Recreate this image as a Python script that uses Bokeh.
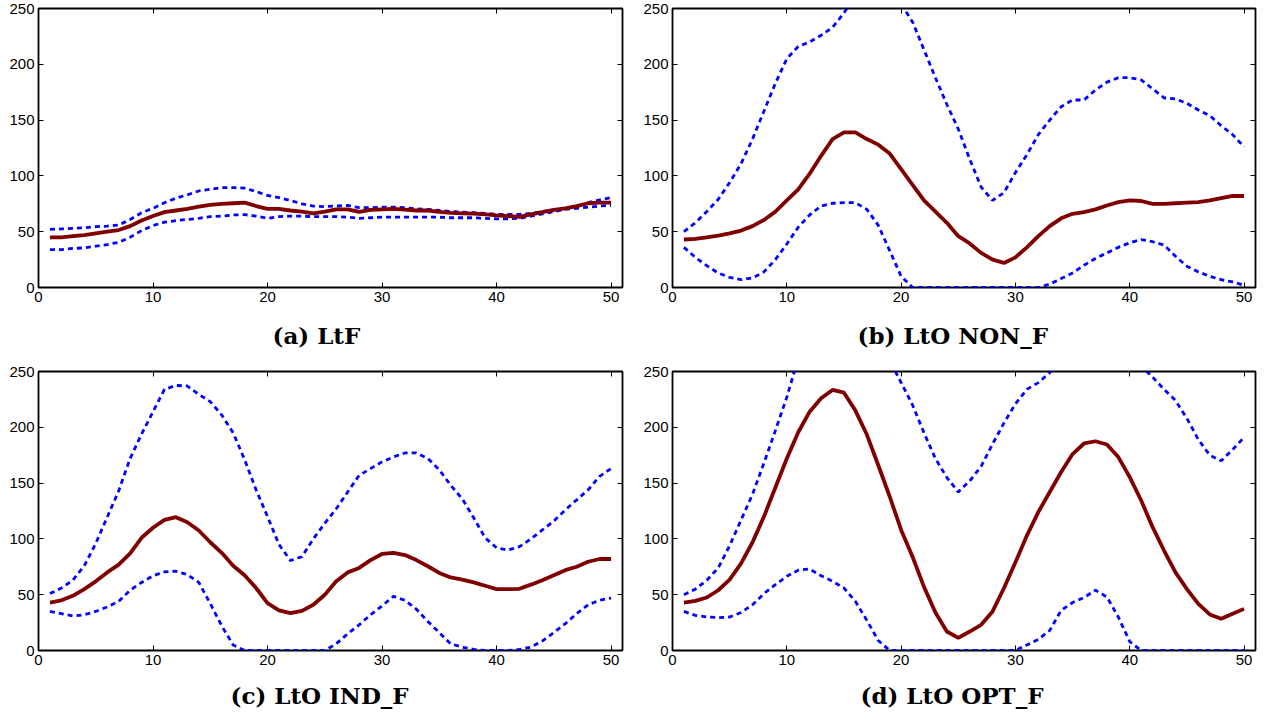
from bokeh.plotting import figure
from bokeh.layouts import gridplot
from bokeh.models import Range1d, SingleIntervalTicker, LinearAxis, Title
from bokeh.embed import file_html
from bokeh.resources import INLINE

x = list(range(1, 51))
captions = ["(a) LtF", "(b) LtO NON_F", "(c) LtO IND_F", "(d) LtO OPT_F"]
x_ticks_interval = 10
y_ticks_interval = 50

mean_a = [45, 45, 46, 47, 48.5, 50, 51.5, 55, 60, 64, 67.5, 69, 70.5, 72.5, 74, 75, 75.5, 76, 73, 70.5,
          70.5, 69, 68, 66.5, 68, 70, 70, 67.7, 69.5, 70, 70.5, 69.8, 69, 69, 67.7, 66.8, 66.5, 66.2, 65.5, 64.6,
          64, 63.2, 65.5, 67.5, 69.5, 71, 73, 75.5, 76, 76]
upper_a = [52, 52.5, 53, 53.5, 54.5, 55, 56, 61, 67, 71, 76, 80, 83, 86.5, 88, 89.5, 89.5, 89, 86, 82.5,
           80.5, 78, 75, 73, 72.5, 73, 73.5, 71.5, 71.5, 72, 72, 71.5, 70.5, 70, 69, 68, 67.5, 67, 66.5, 65.5,
           65.5, 65.5, 66.5, 68, 69.5, 71, 72.5, 76, 78.5, 80.5]
lower_a = [34, 34, 35, 35.5, 37, 38.5, 40.5, 45, 51, 55.5, 58.5, 60, 61, 62, 63.5, 64, 65, 65.3, 64, 62,
           63.5, 64, 64, 63.5, 63.5, 63.5, 63, 62, 62.5, 63, 63, 63, 63, 63, 63, 62.5, 62.5, 62.5, 62, 61.5,
           61.5, 62, 64, 66, 68, 70, 71, 72, 73, 73.5]

mean_b = [43, 43.5, 45, 46.5, 48.5, 51, 55, 60.5, 68, 78, 88, 102, 118, 133, 139, 139, 133, 128, 120, 106,
          92, 78, 68, 58, 46, 39.5, 31, 25, 22, 27, 36, 46, 55, 62, 66, 67.5, 70, 73.5, 76.5, 78,
          77.5, 75, 75, 75.5, 76, 76.5, 78, 80, 82, 82]
upper_b = [50, 58, 68, 79, 94, 111, 133, 158, 183, 205, 216, 220, 226, 233, 246, 262, 275, 280, 272, 254,
           238, 213, 188, 164, 142, 115, 90, 78, 85, 103, 119, 137, 150, 162, 168, 168, 177, 184, 188, 188,
           186, 178, 170, 169, 165, 159, 154, 145, 137, 126]
lower_b = [36, 27, 19.5, 13, 9, 7, 8.5, 14, 25, 39, 54, 65, 73, 75.5, 76, 76, 70, 55.7, 33, 10,
           0, 0, 0, 0, 0, 0, 0, 0, 0, 0, 0, 0, 3, 8, 13, 20, 26, 31, 36, 40,
           43, 41, 38, 28, 19, 14, 10, 7, 5, 2]

mean_c = [43, 45, 49, 55, 62, 70, 77, 87, 101, 110, 117, 119.5, 115, 107.5, 97, 87.5, 76, 67.5, 56, 42.5,
          36, 33.5, 35.5, 41, 50, 62, 70, 74, 81, 86.5, 87.5, 85.5, 81, 75.5, 69.5, 65.5, 63.5, 61, 58, 55,
          55, 55.3, 59, 63, 67.5, 72, 75, 79.5, 82, 82]
upper_c = [51, 56, 63, 76, 96, 119.5, 143, 172, 194, 214, 234, 237.5, 237, 229.5, 223, 211, 195, 171, 144, 120,
           95, 80.6, 84, 100, 114, 127, 142, 157, 163, 169, 173.5, 177, 177, 172, 162, 148, 136, 119, 101, 92,
           90, 93, 100, 108, 116, 126, 135, 144, 156, 163]
lower_c = [35, 33, 31, 32, 35, 39, 44, 54, 61, 67, 70.5, 71, 68, 61, 42, 22, 5, 0, 0, 0,
           0, 0, 0, 0, 0, 6, 15, 23, 32, 40, 48.5, 45, 37, 26, 16, 6, 3, 1, 0, 0,
           0, 1, 3, 8.5, 16, 24, 33, 41, 45, 47]

mean_d = [43, 44.5, 47.5, 54, 63.5, 78, 97, 120, 146, 172, 195.6, 214, 226, 233.5, 231, 215, 193.5, 166, 138, 108,
          84, 57, 34, 17, 11.3, 17, 23, 35, 56, 79, 103, 124, 142, 160, 176, 185.5, 187.5, 184.6, 173.3, 155.3,
          134.4, 110.5, 89.6, 70, 55, 41.8, 32.3, 28.4, 32.9, 37.3]
upper_d = [50, 55, 63, 74, 94, 117, 140, 168, 197, 227, 262, 295, 320, 335, 335, 320, 300, 280, 260, 240,
           220, 195, 172, 155, 142, 152, 165, 185, 204, 221, 234, 240, 249, 262, 275, 285, 290, 285, 275, 265,
           255, 245, 234, 224, 208, 189, 175, 170, 180, 191]
lower_d = [35, 31.5, 30, 29.5, 30, 34, 41, 51, 59, 66.5, 72, 73, 67, 62, 56, 44, 27, 9, 0, 0,
           0, 0, 0, 0, 0, 0, 0, 0, 0, 0, 5, 10, 18, 36, 43, 47.5, 54, 48, 30, 8,
           0, 0, 0, 0, 0, 0, 0, 0, 0, 0]

RED = "#800000"
BLUE = "#0000ff"
TICK_FONT = "Liberation Sans"


def style_axis(ax, show_labels):
    ax.axis_line_color = None
    ax.major_tick_in = 5
    ax.major_tick_out = 0
    ax.major_tick_line_color = "black"
    ax.major_tick_line_width = 1
    ax.minor_tick_line_color = None
    if show_labels:
        ax.major_label_text_font = TICK_FONT
        ax.major_label_text_font_size = "15px"
        ax.major_label_text_color = "black"
        ax.major_label_standoff = 4
    else:
        ax.major_label_text_font_size = "0px"
        ax.major_label_text_color = None
        ax.major_label_standoff = 0


def make(mean, upper, lower, caption, width, height, left, right, top, bottom, offset, standoff):
    p = figure(width=width, height=height, x_range=Range1d(0, 51), y_range=Range1d(0, 250),
               output_backend="svg", toolbar_location=None, title=None,
               min_border_left=left, min_border_right=right,
               min_border_top=top, min_border_bottom=bottom)
    p.xgrid.visible = False
    p.ygrid.visible = False
    p.background_fill_color = "white"
    p.border_fill_color = "white"
    p.outline_line_color = "black"
    p.outline_line_width = 1.8
    p.outline_line_alpha = 1

    p.line(x, upper, line_color=BLUE, line_width=2.8, line_dash="5 4")
    p.line(x, lower, line_color=BLUE, line_width=2.8, line_dash="5 4")
    p.line(x, mean, line_color=RED, line_width=3.8)

    p.xaxis.ticker = SingleIntervalTicker(interval=x_ticks_interval, num_minor_ticks=0)
    p.yaxis.ticker = SingleIntervalTicker(interval=y_ticks_interval, num_minor_ticks=0)
    for ax in p.xaxis + p.yaxis:
        style_axis(ax, True)

    ax_r = LinearAxis(ticker=SingleIntervalTicker(interval=y_ticks_interval, num_minor_ticks=0))
    style_axis(ax_r, False)
    p.add_layout(ax_r, "right")
    ax_t = LinearAxis(ticker=SingleIntervalTicker(interval=x_ticks_interval, num_minor_ticks=0))
    style_axis(ax_t, False)
    p.add_layout(ax_t, "above")

    t = Title(text=caption, align="left", text_font="DejaVu Serif", text_font_style="bold",
              text_font_size="23px", text_color="black", offset=offset, standoff=standoff)
    p.add_layout(t, "below")
    return p


p1 = make(mean_a, upper_a, lower_a, captions[0], 640, 363, 38, 18, 8, 76, 234, 30)
p2 = make(mean_b, upper_b, lower_b, captions[1], 632, 363, 30, 17, 8, 76, 185, 30)
p3 = make(mean_c, upper_c, lower_c, captions[2], 640, 357, 38, 18, 8, 70, 192, 24)
p4 = make(mean_d, upper_d, lower_d, captions[3], 632, 357, 30, 17, 8, 70, 188, 24)

grid = gridplot([[p1, p2], [p3, p4]], toolbar_location=None)

open("out.html", "w").write(file_html(grid, INLINE))
